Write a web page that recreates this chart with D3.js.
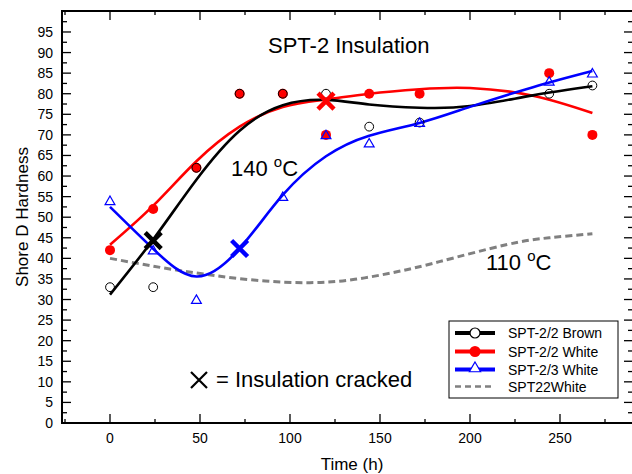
<!DOCTYPE html>
<html><head><meta charset="utf-8">
<script src="https://cdn.jsdelivr.net/npm/d3@7"></script>
<style>body{margin:0;background:#fff}svg{display:block}text{font-family:"Liberation Sans",Arial,sans-serif;fill:#000}</style>
</head><body><svg id="c" width="632" height="474"></svg>
<script>
// measured points
const brownT = [0,24,48,72,96,120,144,172,244,268];
const brownV = [33,33,62,80,80,80,72,73,80,82];
const whiteT = [0,24,48,72,96,120,144,172,244,268];
const whiteV = [42,52,62,80,80,70,80,80,85,70];
const blue3T = [0,24,48,96,120,144,172,244,268];
const blue3V = [54,42,30,55,70,68,73,83,85];
// fitted curves
const brownFitT = [0,24,48,72,96,120,144,172,200,235,268];
const brownFitV = [31.2,44.6,59.1,71.0,77.2,78.5,77.4,76.6,77.0,79.6,81.8];
const whiteFitT = [0,24,48,72,96,120,144,172,200,235,268];
const whiteFitV = [43.3,52.8,63.6,72.0,76.8,78.6,80.0,81.1,81.4,79.5,75.3];
const blue3FitT = [0,24,48,72,96,120,144,172,200,235,268];
const blue3FitV = [52.5,42.3,35.6,42.4,55.4,64.8,69.8,72.9,76.8,81.6,85.5];
const grayT = [0,28,55,83,111,136,160,183,220,244,268];
const grayV = [40,37.8,36.0,34.6,34.1,34.9,36.8,39.2,43.3,45.0,46.0];
// cracked markers
const crackT = [24,72,120];
const crackV = [44.3,42.4,78.2];
const crackSeries = ["brown","blue","red"];
// ticks
const xMajor = [0,50,100,150,200,250];
const xMinor = [-25,25,75,125,175,225,275];
const yMajor = d3.range(0,100,5);
const yMinor = d3.range(2.5,100,5);
const legendLabels = ["SPT-2/2 Brown","SPT-2/2 White","SPT-2/3 White","SPT22White"];

const col = {brown:"#000000", red:"#ff0000", blue:"#0000ff", gray:"#808080"};
const svg = d3.select("#c");
const L=62, R=633, T=11, B=423;
const x = d3.scaleLinear().domain([0,250]).range([110,560]);
const y = d3.scaleLinear().domain([0,100]).range([B,11.4]);

// frame
svg.append("rect").attr("x",L).attr("y",T).attr("width",R-L).attr("height",B-T)
  .attr("fill","none").attr("stroke","#000").attr("stroke-width",2);

const g = svg.append("g");
function tickLines(vals, len, orient){
  vals.forEach(v=>{
    if(orient==="b"){ g.append("line").attr("x1",x(v)).attr("x2",x(v)).attr("y1",B).attr("y2",B-len); }
    if(orient==="t"){ g.append("line").attr("x1",x(v)).attr("x2",x(v)).attr("y1",T).attr("y2",T+len); }
    if(orient==="l"){ g.append("line").attr("x1",L).attr("x2",L+len).attr("y1",y(v)).attr("y2",y(v)); }
    if(orient==="r"){ g.append("line").attr("x1",R).attr("x2",R-len).attr("y1",y(v)).attr("y2",y(v)); }
  });
}
tickLines(xMajor,9,"b"); tickLines(xMinor,4,"b");
tickLines(xMajor,9,"t"); tickLines(xMinor,4,"t");
tickLines(yMajor,9,"l"); tickLines(yMinor,5,"l");
tickLines(yMajor,9,"r"); tickLines(yMinor,5,"r");
g.selectAll("line").attr("stroke","#000").attr("stroke-width",1.3);

// tick labels
svg.append("g").selectAll("text").data(xMajor).join("text")
  .attr("x",d=>x(d)).attr("y",443).attr("text-anchor","middle").attr("font-size",14).text(d=>d);
svg.append("g").selectAll("text").data(yMajor).join("text")
  .attr("x",53).attr("y",d=>y(d)+5).attr("text-anchor","end").attr("font-size",14).text(d=>d);

// axis titles
svg.append("text").attr("x",352).attr("y",470).attr("text-anchor","middle").attr("font-size",17).text("Time (h)");
svg.append("text").attr("transform","translate(28,217) rotate(-90)").attr("text-anchor","middle").attr("font-size",17).text("Shore D Hardness");

// curves
const line = d3.line().x(d=>x(d[0])).y(d=>y(d[1])).curve(d3.curveNatural);
const zip = (a,b)=>a.map((v,i)=>[v,b[i]]);
svg.append("path").attr("d",line(zip(grayT,grayV))).attr("fill","none").attr("stroke",col.gray).attr("stroke-width",3).attr("stroke-dasharray","7,4");
svg.append("path").attr("d",line(zip(whiteFitT,whiteFitV))).attr("fill","none").attr("stroke",col.red).attr("stroke-width",2.6);
svg.append("path").attr("d",line(zip(brownFitT,brownFitV))).attr("fill","none").attr("stroke",col.brown).attr("stroke-width",2.6);
svg.append("path").attr("d",line(zip(blue3FitT,blue3FitV))).attr("fill","none").attr("stroke",col.blue).attr("stroke-width",2.6);

// markers
svg.append("g").selectAll("circle").data(zip(whiteT,whiteV)).join("circle")
  .attr("cx",d=>x(d[0])).attr("cy",d=>y(d[1])).attr("r",5).attr("fill",col.red);
svg.append("g").selectAll("circle").data(zip(brownT,brownV)).join("circle")
  .attr("cx",d=>x(d[0])).attr("cy",d=>y(d[1])).attr("r",4.4).attr("fill","none").attr("stroke","#000").attr("stroke-width",1);
const tri = d3.symbol().type(d3.symbolTriangle).size(42);
svg.append("g").selectAll("path").data(zip(blue3T,blue3V)).join("path")
  .attr("d",tri).attr("transform",d=>`translate(${x(d[0])},${y(d[1])+1})`).attr("fill","none").attr("stroke",col.blue).attr("stroke-width",1.2);

// crack crosses
const cross = (cx,cy,s)=>`M${cx-s},${cy-s}L${cx+s},${cy+s}M${cx-s},${cy+s}L${cx+s},${cy-s}`;
svg.append("g").selectAll("path").data(crackT.map((t,i)=>[t,crackV[i],crackSeries[i]])).join("path")
  .attr("d",d=>cross(x(d[0]),y(d[1]),8)).attr("stroke",d=>col[d[2]]).attr("stroke-width",4.5).attr("fill","none");

// annotations
svg.append("text").attr("x",268).attr("y",53).attr("font-size",22).text("SPT-2 Insulation");
function degText(xp,yp,num){
  const t = svg.append("text").attr("x",xp).attr("y",yp).attr("font-size",22);
  t.append("tspan").text(num+" ");
  t.append("tspan").attr("font-size",15).attr("dy",-9).text("o");
  t.append("tspan").attr("dy",9).text("C");
}
degText(231,176,"140");
degText(486,270,"110");
svg.append("path").attr("d",cross(199,380,8)).attr("stroke","#000").attr("stroke-width",2.2).attr("fill","none");
svg.append("text").attr("x",216).attr("y",387).attr("font-size",22).text("= Insulation cracked");

// legend
const lg = svg.append("g");
lg.append("rect").attr("x",449).attr("y",321).attr("width",169).attr("height",77).attr("fill","#fff").attr("stroke","#000").attr("stroke-width",1);
const rows = [333,351.5,369.5,386.5];
const lcols = [col.brown,col.red,col.blue,col.gray];
rows.forEach((ry,i)=>{
  const ln = lg.append("line").attr("x1",455).attr("x2",495).attr("y1",ry).attr("y2",ry).attr("stroke",lcols[i]);
  if(i<3) ln.attr("stroke-width",4); else ln.attr("stroke-width",2.5).attr("stroke-dasharray","6,4");
  if(i===0) lg.append("circle").attr("cx",475).attr("cy",ry).attr("r",5).attr("fill","#fff").attr("stroke","#000").attr("stroke-width",1.2);
  if(i===1) lg.append("circle").attr("cx",475).attr("cy",ry).attr("r",5.5).attr("fill",col.red);
  if(i===2) lg.append("path").attr("d",d3.symbol().type(d3.symbolTriangle).size(55)).attr("transform",`translate(475,${ry-1})`).attr("fill","#fff").attr("stroke",col.blue).attr("stroke-width",1.2);
  lg.append("text").attr("x",508).attr("y",ry+5).attr("font-size",14).text(legendLabels[i]);
});
</script></body></html>
